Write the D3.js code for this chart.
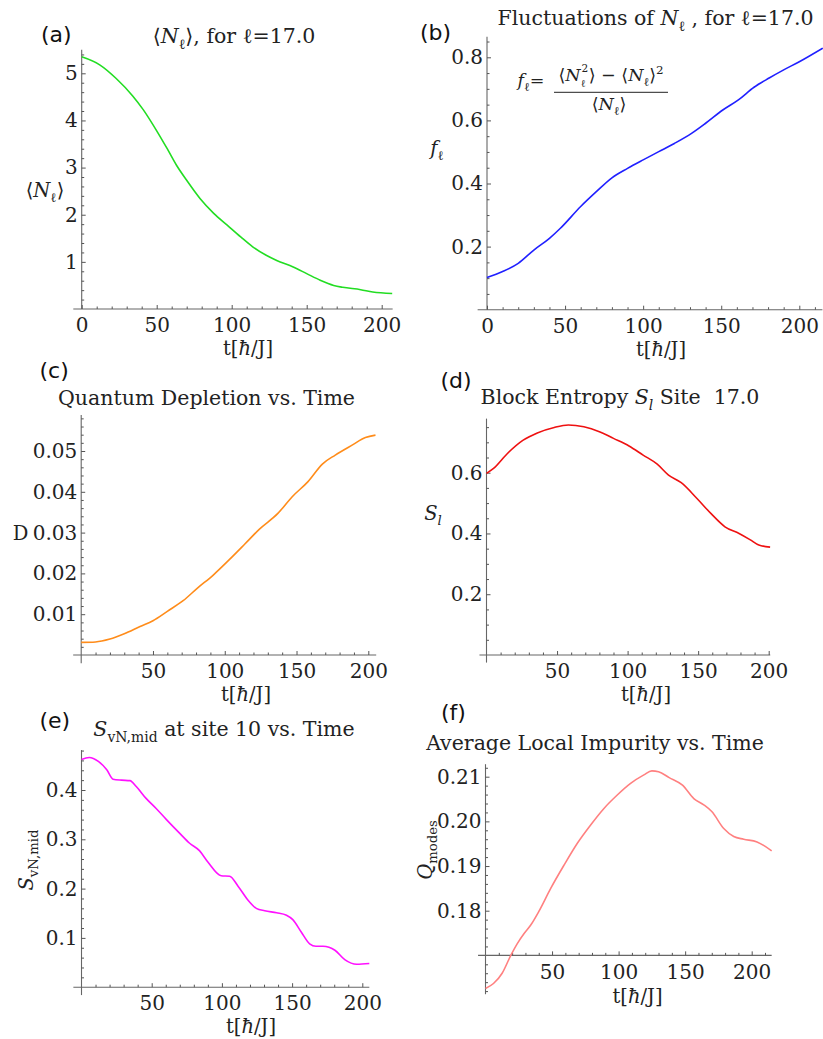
<!DOCTYPE html>
<html><head><meta charset="utf-8">
<script src="https://cdn.jsdelivr.net/npm/d3@7"></script>
<style>
html,body{margin:0;padding:0;background:#fff;}
svg{display:block;}
</style></head>
<body>
<svg id="c" width="823" height="1039"></svg>
<script>
// ---------------- data ----------------
const tA = [0, 12, 23, 34, 41, 50, 57, 63, 70, 79, 88, 97, 106, 114, 123, 130, 141, 150, 159, 168, 174, 186, 194, 207];
const nA = [5.35, 5.18, 4.89, 4.52, 4.23, 3.78, 3.40, 3.06, 2.73, 2.34, 2.03, 1.78, 1.53, 1.32, 1.14, 1.03, 0.89, 0.75, 0.61, 0.50, 0.46, 0.41, 0.36, 0.33];

const tB = [0, 10, 20, 30, 40, 47, 60, 70, 80, 90, 100, 110, 120, 131, 140, 151, 161, 171, 181, 190, 200, 215];
const fB = [0.102, 0.121, 0.147, 0.189, 0.226, 0.258, 0.327, 0.374, 0.418, 0.448, 0.475, 0.501, 0.527, 0.559, 0.591, 0.633, 0.665, 0.705, 0.735, 0.760, 0.786, 0.829];

const tC = [0, 10, 20, 30, 41, 50, 60, 71, 81, 92, 103, 114, 124, 137, 147, 158, 168, 177, 189, 198, 205];
const dC = [0.0031, 0.0032, 0.0039, 0.0052, 0.0070, 0.0084, 0.0107, 0.0133, 0.0164, 0.0196, 0.0233, 0.0272, 0.0308, 0.0347, 0.0388, 0.0425, 0.0468, 0.0490, 0.0515, 0.0533, 0.0539];

const tD = [0, 5, 15, 26, 36, 48, 58, 69, 80, 90, 101, 111, 121, 129, 138, 149, 159, 169, 179, 187, 193, 201];
const sD = [0.598, 0.614, 0.664, 0.707, 0.731, 0.749, 0.757, 0.751, 0.735, 0.713, 0.688, 0.658, 0.628, 0.592, 0.567, 0.516, 0.466, 0.422, 0.400, 0.379, 0.362, 0.355];

const tE = [0, 5.5, 12, 18, 22.5, 28.5, 34.5, 39, 46, 53, 60.5, 70, 77, 84, 90, 99.5, 105.5, 111.5, 118.5, 124.5, 130.5, 139, 146, 150.5, 156.5, 162.5, 167, 172, 180.5, 187.5, 196, 205];
const sE = [0.462, 0.466, 0.458, 0.441, 0.422, 0.420, 0.419, 0.407, 0.383, 0.363, 0.340, 0.312, 0.292, 0.277, 0.254, 0.226, 0.225, 0.205, 0.177, 0.160, 0.155, 0.151, 0.146, 0.137, 0.112, 0.088, 0.083, 0.083, 0.075, 0.056, 0.0465, 0.048];

const tF = [0, 6, 12.5, 19, 24, 29, 34, 40, 49, 59, 69, 79, 89, 99, 109, 119, 125, 130, 138, 148, 156.5, 164, 170, 179, 186.5, 194, 204, 215];
const qF = [0.1626, 0.1637, 0.1660, 0.1700, 0.1727, 0.1749, 0.1768, 0.1798, 0.1850, 0.1902, 0.1951, 0.1992, 0.2029, 0.2059, 0.2085, 0.2104, 0.2113, 0.2111, 0.2098, 0.2081, 0.2051, 0.2037, 0.2022, 0.1984, 0.1966, 0.1960, 0.1954, 0.1934];

const xTicksAB = [0, 50, 100, 150, 200];
const xTicksCDEF = [50, 100, 150, 200];
const yTicksA = [1, 2, 3, 4, 5];
const yTicksB = [0.2, 0.4, 0.6, 0.8];
const yTicksC = [0.01, 0.02, 0.03, 0.04, 0.05];
const yTicksD = [0.2, 0.4, 0.6];
const yTicksE = [0.1, 0.2, 0.3, 0.4];
const yTicksF = [0.18, 0.19, 0.20, 0.21];

// ---------------- drawing ----------------
const SERIF = "'DejaVu Serif', 'Liberation Serif', serif";
const SANS = "'DejaVu Sans', sans-serif";
const TICK_FS = 20, TITLE_FS = 20.5, LAB_FS = 19.5;
const svg = d3.select('#c');

function rich(text, segs, fs) {
  let shift = 0;
  segs.forEach(s => {
    const ts = text.append('tspan').text(s.t);
    const target = s.sub ? fs * 0.28 : s.sup ? -fs * 0.4 : 0;
    const size = (s.sub || s.sup) ? fs * 0.68 : fs;
    ts.attr('font-size', size).attr('dy', target - shift);
    shift = target;
    if (s.i) ts.attr('font-style', 'italic');
  });
  return text;
}
function label(g, x, y, segs, opt = {}) {
  const fs = opt.fs || TITLE_FS;
  const t = g.append('text')
    .attr('x', x).attr('y', y)
    .attr('font-family', opt.family || SERIF)
    .attr('font-size', fs)
    .attr('fill', opt.fill || '#222')
    .attr('xml:space', 'preserve')
    .attr('text-anchor', opt.anchor || 'middle');
  if (opt.rotate) t.attr('transform', `rotate(-90 ${x} ${y})`);
  return rich(t, segs, fs);
}

const panels = [
  { id: '(a)', t: tA, v: nA, color: '#22dd22',
    x0: 81.7, x200: 381.7, yd: [0, 5], yr: [309, 73.3], cross: 0,
    xAxis: [-5.6, 207.3], yAxis: [0, 5.5],
    xTicks: xTicksAB, yTicks: yTicksA, yMinor: 0.2, fmt: d3.format('d'),
    tag: [41, 41.5], title: [234, 43], xlab: [248, 355], ylab: [45, 197] },
  { id: '(b)', t: tB, v: fB, color: '#2020ff',
    x0: 487, x200: 799.3, yd: [0, 0.8], yr: [309.7, 57.3], cross: 0,
    xAxis: [-6, 214.8], yAxis: [0, 0.865],
    xTicks: xTicksAB, yTicks: yTicksB, yMinor: 0.05, fmt: d3.format('.1f'),
    tag: [420, 39.5], title: [655.5, 25], xlab: [661, 356], ylab: [437, 155] },
  { id: '(c)', t: tC, v: dC, color: '#ff8c1a',
    x0: 81.2, x200: 368.3, yd: [0, 0.05], yr: [655, 451], cross: 0,
    xAxis: [-5.6, 205.5], yAxis: [-0.002, 0.0588],
    xTicks: xTicksCDEF, yTicks: yTicksC, yMinor: 0.002, fmt: d3.format('.2f'),
    tag: [39.5, 378], title: [206.5, 405], xlab: [246, 701], ylab: [20.5, 540] },
  { id: '(d)', t: tD, v: sD, color: '#ee1111',
    x0: 486.5, x200: 768.7, yd: [0, 0.6], yr: [655, 472.7], cross: 0,
    xAxis: [-5, 201.1], yAxis: [-0.025, 0.778],
    xTicks: xTicksCDEF, yTicks: yTicksD, yMinor: 0.05, fmt: d3.format('.1f'),
    tag: [440.5, 388], title: [620, 404], xlab: [646, 701], ylab: [433, 520] },
  { id: '(e)', t: tE, v: sE, color: '#ff10ff',
    x0: 81.5, x200: 362.3, yd: [0, 0.4], yr: [987.2, 790], cross: 0,
    xAxis: [-5.8, 205], yAxis: [-0.016, 0.481],
    xTicks: xTicksCDEF, yTicks: yTicksE, yMinor: 0.02, fmt: d3.format('.1f'),
    tag: [39.5, 728], title: [224, 736], xlab: [251, 1033], ylab: [33, 860], rot: true },
  { id: '(f)', t: tF, v: qF, color: '#ff8080',
    x0: 485.5, x200: 751.7, yd: [0.18, 0.21], yr: [910.7, 776.7], cross: 0.17,
    xAxis: [-5.6, 215], yAxis: [0.1613, 0.2128],
    xTicks: xTicksCDEF, yTicks: yTicksF, yMinor: 0.002, fmt: d3.format('.2f'),
    tag: [441, 720], title: [595, 750], xlab: [637.5, 1003], ylab: [432, 850], rot: true }
];

const titles = [
  [{t:'⟨'},{t:'N',i:1},{t:'ℓ',sub:1},{t:'⟩'},{t:', for '},{t:'ℓ'},{t:'=17.0'}],
  [{t:'Fluctuations of '},{t:'N',i:1},{t:'ℓ',sub:1},{t:' , for '},{t:'ℓ'},{t:'=17.0'}],
  [{t:'Quantum Depletion vs. Time'}],
  [{t:'Block Entropy '},{t:'S',i:1},{t:'l',i:1,sub:1},{t:' Site\u00a0\u00a017.0'}],
  [{t:'S',i:1},{t:'vN,mid',sub:1},{t:' at site 10 vs. Time'}],
  [{t:'Average Local Impurity vs. Time'}]
];
const ylabels = [
  [{t:'⟨'},{t:'N',i:1},{t:'ℓ',sub:1},{t:'⟩'}],
  [{t:'f',i:1},{t:'ℓ',sub:1}],
  [{t:'D'}],
  [{t:'S',i:1},{t:'l',i:1,sub:1}],
  [{t:'S',i:1},{t:'vN,mid',sub:1}],
  [{t:'Q',i:1},{t:'modes',sub:1}]
];
const xlabSegs = [{t:'t['},{t:'ħ',i:1},{t:'/J]'}];

panels.forEach((p, k) => {
  const g = svg.append('g');
  const x = d3.scaleLinear().domain([0, 200]).range([p.x0, p.x200]);
  const y = d3.scaleLinear().domain(p.yd).range(p.yr);
  const axisCol = '#666';

  // axis lines
  g.append('line').attr('x1', x(p.xAxis[0])).attr('x2', x(p.xAxis[1]))
    .attr('y1', y(p.cross)).attr('y2', y(p.cross)).attr('stroke', axisCol).attr('stroke-width', 1.1);
  g.append('line').attr('x1', x(0)).attr('x2', x(0))
    .attr('y1', y(p.yAxis[0])).attr('y2', y(p.yAxis[1])).attr('stroke', axisCol).attr('stroke-width', 1.1);

  // x ticks
  const xMinor = d3.range(10, p.xAxis[1] + 0.01, 10).filter(v => v % 50 !== 0);
  const gx = g.append('g').attr('transform', `translate(0,${y(p.cross)})`);
  gx.call(d3.axisBottom(x).tickValues(p.xTicks).tickFormat(d3.format('d'))
      .tickSizeInner(-4).tickSizeOuter(0).tickPadding(9));
  gx.append('g').call(d3.axisBottom(x).tickValues(xMinor).tickFormat('')
      .tickSizeInner(-2.5).tickSizeOuter(0));
  // y ticks
  const yLo = Math.ceil((p.yAxis[0] + 1e-9) / p.yMinor), yHi = Math.floor(p.yAxis[1] / p.yMinor);
  const yMinor = d3.range(yLo, yHi + 1).map(i => +(i * p.yMinor).toFixed(6))
      .filter(v => v !== p.cross && !p.yTicks.some(t => Math.abs(t - v) < 1e-9));
  const gy = g.append('g').attr('transform', `translate(${x(0)},0)`);
  gy.call(d3.axisLeft(y).tickValues(p.yTicks).tickFormat(p.fmt)
      .tickSizeInner(-4).tickSizeOuter(0).tickPadding(4));
  gy.append('g').call(d3.axisLeft(y).tickValues(yMinor).tickFormat('')
      .tickSizeInner(-2.5).tickSizeOuter(0));

  g.selectAll('.domain').remove();
  g.selectAll('.tick line').attr('stroke', '#555');
  g.selectAll('.tick text').attr('font-family', SERIF).attr('font-size', TICK_FS).attr('fill', '#222');

  // data line
  const line = d3.line().x((d, i) => x(p.t[i])).y(d => y(d)).curve(d3.curveMonotoneX);
  g.append('path').datum(p.v).attr('d', line).attr('fill', 'none')
    .attr('stroke', p.color).attr('stroke-width', 1.6).attr('stroke-linejoin', 'round');

  // texts
  g.append('text').attr('x', p.tag[0]).attr('y', p.tag[1]).attr('font-family', SANS)
    .attr('font-size', 22).attr('fill', '#111').text(p.id);
  label(g, p.title[0], p.title[1], titles[k]);
  label(g, p.xlab[0], p.xlab[1], xlabSegs, { fs: LAB_FS });
  if (p.rot) label(g, p.ylab[0], p.ylab[1], ylabels[k], { rotate: true, fs: LAB_FS });
  else label(g, p.ylab[0], p.ylab[1], ylabels[k], { fs: LAB_FS });
});

// formula in panel (b): f = (<N^2> - <N>^2) / <N>
const fg = svg.append('g');
const ffs = 17.5;
label(fg, 531, 86, [{t:'f',i:1},{t:'ℓ',sub:1},{t:'='}], { fs: ffs });
// numerator laid out piece by piece so the stacked sub/superscript do not collide
const num = fg.append('g');
let cx = 0;
const p1 = label(num, cx, 81, [{t:'⟨'},{t:'N',i:1}], { fs: ffs, anchor: 'start' });
cx += p1.node().getComputedTextLength();
const sSub = label(num, cx, 86.5, [{t:'ℓ'}], { fs: ffs * 0.6, anchor: 'start' });
const sSup = label(num, cx + 1, 71.5, [{t:'2'}], { fs: ffs * 0.6, anchor: 'start' });
cx += Math.max(sSub.node().getComputedTextLength(), sSup.node().getComputedTextLength() + 1) + 0.5;
const p3 = label(num, cx, 81, [{t:'⟩ − ⟨'},{t:'N',i:1},{t:'ℓ',sub:1},{t:'⟩'},{t:'2',sup:1}], { fs: ffs, anchor: 'start' });
cx += p3.node().getComputedTextLength();
num.attr('transform', `translate(${611 - cx / 2},0)`);
fg.append('line').attr('x1', 554).attr('x2', 668).attr('y1', 92.3).attr('y2', 92.3)
  .attr('stroke', '#222').attr('stroke-width', 1);
label(fg, 609, 110, [{t:'⟨'},{t:'N',i:1},{t:'ℓ',sub:1},{t:'⟩'}], { fs: ffs });
</script>
</body></html>
